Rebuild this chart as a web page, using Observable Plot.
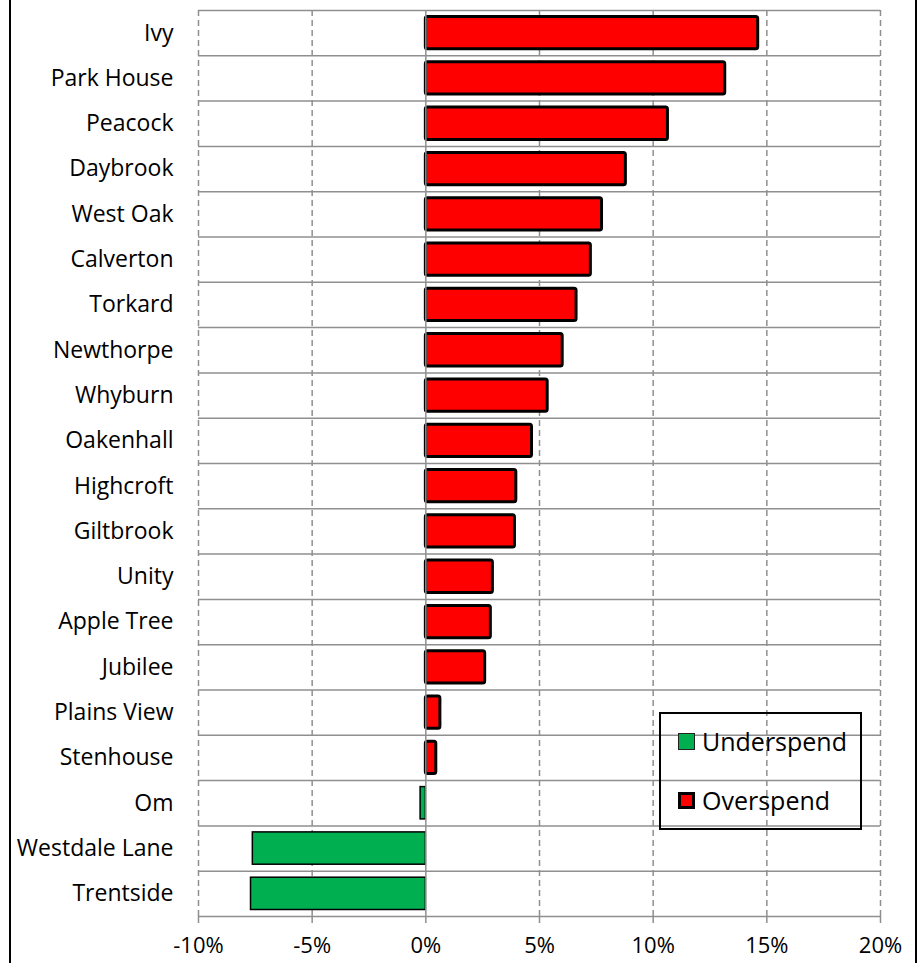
<!DOCTYPE html>
<html><head><meta charset="utf-8">
<script src="https://cdn.jsdelivr.net/npm/d3@7"></script>
<script src="https://cdn.jsdelivr.net/npm/@observablehq/plot@0.6"></script>
<style>
body{margin:0;background:#fff;}
#wrap{position:relative;width:918px;height:963px;overflow:hidden;font-family:"Open Sans",sans-serif;}
.edge{position:absolute;top:0;bottom:0;width:2px;background:#000;}
#legend{position:absolute;left:659px;top:712px;width:203px;height:118px;border:2px solid #000;box-sizing:border-box;}
.item{position:absolute;left:17px;display:flex;align-items:center;font-size:25px;line-height:1;color:#000;}
.sw{width:17px;height:17px;box-sizing:border-box;margin-right:7px;}
</style></head>
<body>
<div id="wrap">
  <div class="edge" style="left:9px"></div>
  <div class="edge" style="left:915px"></div>
  <div id="chart"></div>
  <div id="legend"></div>
</div>
<script>
const schools = ["Ivy","Park House","Peacock","Daybrook","West Oak","Calverton","Torkard","Newthorpe","Whyburn","Oakenhall","Highcroft","Giltbrook","Unity","Apple Tree","Jubilee","Plains View","Stenhouse","Om","Westdale Lane","Trentside"];
const variance = [0.1462,0.1317,0.1065,0.088,0.0775,0.0726,0.0663,0.0602,0.0536,0.0467,0.0398,0.0392,0.0295,0.0286,0.0261,0.0064,0.0046,-0.0023,-0.0761,-0.0769];
const xTicks = [-0.10,-0.05,0,0.05,0.10,0.15,0.20];
const seriesNames = ["Underspend","Overspend"];
const seriesColors = ["#00B050","#FF0000"];

const data = schools.map((name,i)=>({name, value: variance[i]}));
const W = 918, H = 963, mT = 10, mB = 47, mL = 198, mR = 38;
const band = (H - mT - mB) / schools.length;

const chart = Plot.plot({
  width: W, height: H,
  marginTop: mT, marginBottom: mB, marginLeft: mL, marginRight: mR,
  style: {fontFamily: "'Open Sans', sans-serif", fontSize: "23px", color: "#000", background: "#fff"},
  x: {domain: [-0.10, 0.20], ticks: xTicks, label: null},
  y: {domain: schools, padding: 0, round: false, label: null},
  marks: [
    Plot.ruleX(xTicks.filter(d => d !== 0), {stroke: "#8f8f8f", strokeWidth: 1.5, strokeDasharray: "6,4"}),
    Plot.ruleY(schools, {y: d => d, x1: -0.10, x2: 0.20, dy: -band/2, stroke: "#8f8f8f", strokeWidth: 1.5}),
    Plot.ruleY(schools.slice(-1), {y: d => d, x1: -0.10, x2: 0.20, dy: band/2, stroke: "#8f8f8f", strokeWidth: 1.5}),
    Plot.barX(data.filter(d => d.value < 0), {x: "value", y: "name", fill: seriesColors[0], stroke: "#000", strokeWidth: 1.5, insetTop: 6.5, insetBottom: 6.5}),
    Plot.barX(data.filter(d => d.value >= 0), {x: "value", y: "name", fill: seriesColors[1], stroke: "#000", strokeWidth: 3, insetTop: 6.5, insetBottom: 6.5, rx: 2}),
    Plot.ruleX([0], {stroke: "#8f8f8f", strokeWidth: 1.5}),
    Plot.axisX({ticks: xTicks, tickFormat: d => Math.round(d*100) + "%", tickSize: 7, tickPadding: 14, fontSize: 22, stroke: "#8f8f8f", strokeWidth: 1.5, fill: "#000", label: null}),
    Plot.axisY({tickSize: 0, tickPadding: 25, fill: "#000", label: null})
  ]
});
chart.querySelectorAll("text").forEach(t => t.setAttribute("stroke","none"));
document.getElementById("chart").appendChild(chart);

const legend = document.getElementById("legend");
seriesNames.forEach((n, i) => {
  const it = document.createElement("div");
  it.className = "item";
  it.style.top = (i === 0 ? 15 : 74) + "px";
  const sw = document.createElement("div");
  sw.className = "sw";
  sw.style.background = seriesColors[i];
  sw.style.border = i === 0 ? "1.5px solid #222" : "3px solid #000";
  const tx = document.createElement("span");
  tx.textContent = n;
  it.appendChild(sw); it.appendChild(tx);
  legend.appendChild(it);
});
</script>
</body></html>
